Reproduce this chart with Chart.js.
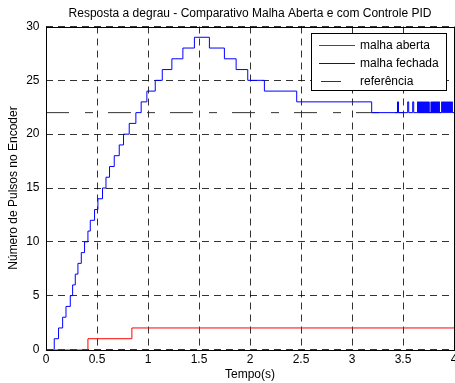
<!DOCTYPE html>
<html>
<head>
<meta charset="utf-8">
<script src="https://cdn.jsdelivr.net/npm/chart.js@4"></script>
<style>
  html, body { margin: 0; padding: 0; background: #fff; }
  #wrap { width: 455px; height: 383px; }
</style>
</head>
<body>
<div id="wrap"><canvas id="c" width="455" height="383"></canvas></div>
<script>
// ---- data ----
const chartTitle = 'Resposta a degrau - Comparativo Malha Aberta e com Controle PID';
const xTitle = 'Tempo(s)';
const yTitle = 'Número de Pulsos no Encoder';
const seriesNames = ['malha aberta', 'malha fechada', 'referência'];

const xTicks = [0, 0.5, 1, 1.5, 2, 2.5, 3, 3.5, 4];
const yTicks = [0, 5, 10, 15, 20, 25, 30];

// open loop (stairs: value holds from each time until the next)
const redTimes  = [0, 0.411, 0.842, 4.0];
const redValues = [0, 1, 2, 2];

// closed loop (PID)
const blueTimes = [
  0, 0.081, 0.123, 0.163, 0.196, 0.238, 0.261, 0.287, 0.313, 0.346,
  0.378, 0.411, 0.434, 0.476, 0.509, 0.554, 0.588, 0.623, 0.669, 0.718,
  0.760, 0.816, 0.881, 0.933, 0.989, 1.071, 1.140, 1.234, 1.342, 1.455,
  1.602, 1.749, 1.864, 1.978, 2.141, 2.458, 3.193,
  3.446, 3.456, 3.546, 3.556, 3.595, 3.605,
  3.643, 3.648, 3.653, 3.658, 3.663, 3.668, 3.673, 3.678, 3.683, 3.688, 3.693, 3.698,
  3.703, 3.708, 3.713, 3.718, 3.723, 3.728, 3.733, 3.738, 3.743, 3.748, 3.753, 3.757,
  3.774, 3.779, 3.784, 3.789, 3.794, 3.799, 3.804, 3.809, 3.814,
  3.819, 3.824, 3.829, 3.834, 3.839, 3.844, 3.849, 3.853, 3.857,
  3.879, 3.884, 3.889, 3.894, 3.899, 3.904, 3.909, 3.914, 3.919, 3.924, 3.929,
  3.934, 3.939, 3.944, 3.949, 3.954, 3.959, 3.964, 3.969, 3.974, 3.979, 3.984,
  4.0
];
const blueValues = [
  0, 1, 2, 3, 4, 5, 6, 7, 8, 9,
  10, 11, 12, 13, 14, 15, 16, 17, 18, 19,
  20, 21, 22, 23, 24, 25, 26, 27, 28, 29,
  28, 27, 26, 25, 24, 23, 22,
  23, 22, 23, 22, 23, 22,
  23, 22, 23, 22, 23, 22, 23, 22, 23, 22, 23, 22,
  23, 22, 23, 22, 23, 22, 23, 22, 23, 22, 23, 22,
  23, 22, 23, 22, 23, 22, 23, 22, 23,
  22, 23, 22, 23, 22, 23, 22, 23, 22,
  23, 22, 23, 22, 23, 22, 23, 22, 23, 22, 23,
  22, 23, 22, 23, 22, 23, 22, 23, 22, 23, 22,
  22
];

// reference
const refTimes  = [0, 4];
const refValues = [22, 22];

// ---- build chart ----
const toPts = (xs, ys) => xs.map((x, i) => ({ x: x, y: ys[i] }));
const FONT = "'Liberation Sans', Arial, Helvetica, sans-serif";

const boxLegend = {
  id: 'boxLegend',
  afterDatasetsDraw(chart) {
    const ctx = chart.ctx, a = chart.chartArea;
    const x0 = a.right - 143, y0 = a.top + 6.5, w = 135, h = 57;
    ctx.save();
    ctx.fillStyle = '#fff';
    ctx.fillRect(x0, y0, w, h);
    ctx.strokeStyle = '#000';
    ctx.lineWidth = 1;
    ctx.setLineDash([]);
    ctx.strokeRect(x0 + 0.5, y0 + 0.5, w, h);
    ctx.font = '12px ' + FONT;
    ctx.textBaseline = 'middle';
    ctx.textAlign = 'left';
    chart.data.datasets.forEach((ds, i) => {
      const yy = Math.round(y0 + 11.5 + i * 18) + 0.5;
      ctx.beginPath();
      ctx.strokeStyle = ds.borderColor;
      ctx.lineWidth = 1;
      ctx.setLineDash([]);
      if (ds.borderDash) {
        ctx.moveTo(x0 + 10, yy);
        ctx.lineTo(x0 + 30, yy);
      } else {
        ctx.moveTo(x0 + 8, yy);
        ctx.lineTo(x0 + 44, yy);
      }
      ctx.stroke();
      ctx.fillStyle = '#000';
      ctx.fillText(ds.label, x0 + 49, yy);
    });
    ctx.restore();
  },
  afterDraw(chart) {
    const ctx = chart.ctx, a = chart.chartArea;
    ctx.save();
    ctx.strokeStyle = '#000';
    ctx.lineWidth = 1;
    ctx.setLineDash([]);
    ctx.strokeRect(Math.round(a.left) + 0.5, Math.round(a.top) + 0.5,
                   Math.round(a.right - a.left), Math.round(a.bottom - a.top));
    ctx.restore();
  }
};

new Chart(document.getElementById('c'), {
  type: 'line',
  data: {
    datasets: [
      { label: seriesNames[0], data: toPts(redTimes, redValues), borderColor: '#ff0000',
        borderWidth: 1, stepped: 'before', pointRadius: 0, fill: false },
      { label: seriesNames[1], data: toPts(blueTimes, blueValues), borderColor: '#0000ff',
        borderWidth: 1, stepped: 'before', pointRadius: 0, fill: false },
      { label: seriesNames[2], data: toPts(refTimes, refValues), borderColor: '#333333',
        borderWidth: 1, borderDash: [23, 16, 8, 15], pointRadius: 0, fill: false }
    ]
  },
  options: {
    responsive: false,
    animation: false,
    devicePixelRatio: 1,
    layout: { padding: { left: 0, right: 1, top: 0, bottom: 0 } },
    plugins: {
      legend: { display: false },
      title: { display: false },
      tooltip: { enabled: false }
    },
    scales: {
      x: {
        type: 'linear', position: 'bottom', min: 0, max: 4,
        afterBuildTicks: s => { s.ticks = xTicks.map(v => ({ value: v })); },
        afterFit: s => { s.height = 33.5; s.paddingLeft = 0; s.paddingRight = 0; },
        ticks: { color: '#000', font: { family: FONT, size: 12 }, padding: 3, maxRotation: 0,
                 callback: v => String(v) },
        grid: { color: 'rgba(0,0,0,0.8)', lineWidth: 1, drawTicks: false },
        border: { display: false, dash: [7, 5] },
        title: { display: true, text: xTitle, color: '#000', font: { family: FONT, size: 12 },
                 padding: { top: 0, bottom: 1 } }
      },
      xTop: {
        type: 'linear', position: 'top', min: 0, max: 4,
        afterFit: s => { s.height = 26.5; },
        ticks: { display: false },
        grid: { display: false, drawTicks: false },
        border: { display: false },
        title: { display: true, text: chartTitle, color: '#000', font: { family: FONT, size: 12 },
                 padding: { top: 6.8, bottom: 0 } }
      },
      y: {
        type: 'linear', position: 'left', min: 0, max: 30,
        afterBuildTicks: s => { s.ticks = yTicks.map(v => ({ value: v })); },
        afterFit: s => { s.width = 46; },
        ticks: { color: '#000', font: { family: FONT, size: 12 }, padding: 6.5 },
        grid: { color: 'rgba(0,0,0,0.8)', lineWidth: 1, drawTicks: false },
        border: { display: false, dash: [7, 5] },
        title: { display: true, text: yTitle, color: '#000', font: { family: FONT, size: 12 },
                 padding: { top: 6.5, bottom: 0 } }
      }
    }
  },
  plugins: [boxLegend]
});
</script>
</body>
</html>
